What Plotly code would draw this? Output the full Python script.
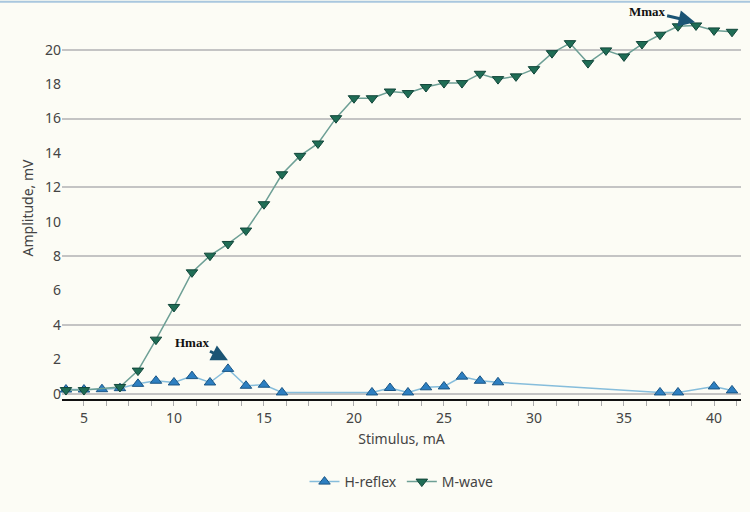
import plotly.graph_objects as go

h_x = [4, 5, 6, 7, 8, 9, 10, 11, 12, 13, 14, 15, 16, 21, 22, 23, 24, 25, 26, 27, 28, 37, 38, 40, 41]
h_y = [0.25, 0.25, 0.27, 0.33, 0.58, 0.76, 0.66, 1.03, 0.66, 1.45, 0.47, 0.53, 0.08, 0.08, 0.34, 0.08, 0.38, 0.43, 1.0, 0.76, 0.67, 0.08, 0.08, 0.43, 0.2]

m_x = [4, 5, 7, 8, 9, 10, 11, 12, 13, 14, 15, 16, 17, 18, 19, 20, 21, 22, 23, 24, 25, 26,
       27, 28, 29, 30, 31, 32, 33, 34, 35, 36, 37, 38, 39, 40, 41]
m_y = [0.22, 0.22, 0.4, 1.35, 3.15, 5.05, 7.06, 8.03, 8.71, 9.49, 11.02, 12.76, 13.83, 14.55,
       16.02, 17.18, 17.18, 17.57, 17.48, 17.83, 18.06, 18.06, 18.6, 18.29, 18.45, 18.87,
       19.8, 20.38, 19.22, 19.96, 19.61, 20.33, 20.87, 21.36, 21.41, 21.12, 21.04]

x_range = [3.78, 41.5]
y_range = [-0.3, 21.9]
font_family = "Noto Sans, Open Sans, sans-serif"
text_col = "#444444"

fig = go.Figure()
fig.add_trace(go.Scatter(
    x=h_x, y=h_y, mode="lines+markers", name="H-reflex",
    line=dict(color="#86bddb", width=1.5),
    marker=dict(symbol="triangle-up", size=10, color="#2d7fc1",
                line=dict(color="#1a5685", width=1)),
    cliponaxis=False,
))
fig.add_trace(go.Scatter(
    x=m_x, y=m_y, mode="lines+markers", name="M-wave",
    line=dict(color="#6d9f95", width=1.5),
    marker=dict(symbol="triangle-down", size=10, color="#1f6d55",
                line=dict(color="#12463a", width=1)),
    cliponaxis=False,
))
# invisible trace to activate the grid axis
fig.add_trace(go.Scatter(x=[x_range[0]], y=[0], yaxis="y2", mode="markers",
                         marker=dict(opacity=0), showlegend=False, hoverinfo="skip"))

fig.update_layout(
    width=750, height=512,
    margin=dict(l=62, r=9, t=17, b=113, autoexpand=False),
    paper_bgcolor="#fcfcf5", plot_bgcolor="#fcfcf5",
    font=dict(family=font_family, size=14, color=text_col),
    xaxis=dict(
        range=x_range, tick0=0, dtick=5, showgrid=False, zeroline=False,
        showline=True, linecolor="#111111", linewidth=2,
        ticks="outside", ticklen=5, tickcolor="#aaaaaa",
        minor=dict(dtick=1.25, tick0=0, ticks="outside", ticklen=5, tickcolor="#aaaaaa"),
        title=dict(text="Stimulus, mA", standoff=8, font=dict(size=14)),
        tickfont=dict(size=14),
    ),
    yaxis=dict(
        range=y_range, tick0=0, dtick=2, showgrid=False, zeroline=False,
        showline=False, ticks="", tickfont=dict(size=14),
        title=dict(text="Amplitude, mV", standoff=8, font=dict(size=14)),
    ),
    yaxis2=dict(
        range=y_range, overlaying="y", tick0=0, dtick=4, showgrid=True,
        gridcolor="#c4c4c4", gridwidth=1.5, showticklabels=False,
        zeroline=False, showline=False, ticks="",
    ),
    legend=dict(orientation="h", x=0.5, xanchor="center", yref="container",
                y=30 / 512, yanchor="middle",
                font=dict(size=14, color=text_col), bgcolor="rgba(0,0,0,0)"),
    showlegend=True,
)

fig.add_annotation(x=13.0, y=1.95, text="<b>Hmax</b>", showarrow=True,
                   ax=-36, ay=-18, arrowhead=2, arrowsize=1.1, arrowwidth=3,
                   arrowcolor="#1b5474",
                   font=dict(family="Liberation Serif, Times New Roman, serif", size=13, color="#111111"))
fig.add_annotation(x=38.95, y=21.6, text="<b>Mmax</b>", showarrow=True,
                   ax=-48, ay=-11, arrowhead=2, arrowsize=1.1, arrowwidth=3,
                   arrowcolor="#1b5474",
                   font=dict(family="Liberation Serif, Times New Roman, serif", size=13, color="#111111"))

fig.add_shape(type="line", xref="paper", yref="paper", x0=-0.1, x1=1.02, y0=1.04, y1=1.04,
              line=dict(color="#a9c7de", width=2))

fig.write_html("out.html")
